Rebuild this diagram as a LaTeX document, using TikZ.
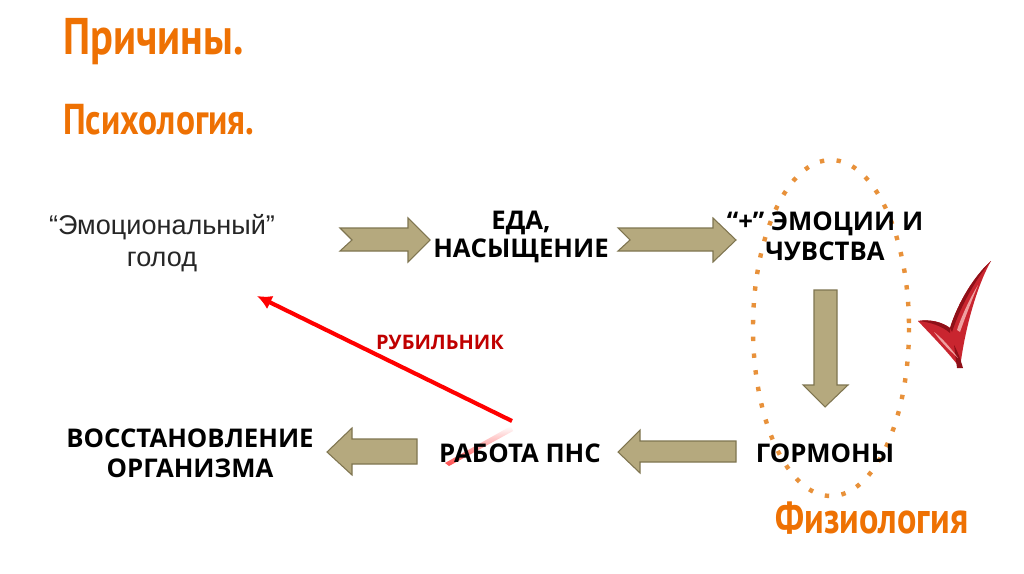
\documentclass[tikz,border=0pt]{standalone}
\usepackage{fontspec}
\usetikzlibrary{arrows.meta}
\setmainfont{Open Sans}
\newfontfamily\titlefont[FakeStretch=0.82]{PT Sans}
\newfontfamily\bodyfont{Liberation Sans}
\definecolor{orangeT}{HTML}{EE7103}
\definecolor{dotO}{HTML}{E8913A}
\definecolor{olive}{HTML}{B5A97E}
\definecolor{oliveD}{HTML}{7F7550}
\definecolor{darkred}{HTML}{C00000}
\definecolor{chk}{HTML}{C9252F}
\definecolor{chkD}{HTML}{8E1018}
\definecolor{chkL}{HTML}{EFA0A0}
\tikzset{x=0.75pt,y=-0.75pt,
 ttl/.style={font=\titlefont\bfseries\fontsize{#1}{#1}\selectfont,text=orangeT,inner sep=0,anchor=base west},
 lbl/.style={font=\bfseries\fontsize{19.3}{22.5}\selectfont,align=center,inner sep=0,text=black},
 barrow/.style={draw=oliveD,fill=olive,line width=0.8pt,line join=miter},
}
\begin{document}
\begin{tikzpicture}
\useasboundingbox (0,0) rectangle (1024,574);
\fill[white] (0,0) rectangle (1024,574);
\node[ttl=38.7] (t1) at (63,55) {Причины.};
\node[ttl=32.4] (t2) at (63,135) {Психология.};
\node[font=\bodyfont\fontsize{20.3}{24.5}\selectfont,align=center,inner sep=0,text=black!85] (a) at (162,243) {“Эмоциональный”\\голод};
% block arrows
\draw[barrow] (340,228) -- (408,228) -- (408,218) -- (430,240) -- (408,262) -- (408,251) -- (340,251) -- (352,240) -- cycle;
\draw[barrow] (618,228) -- (713,228) -- (713,218) -- (736,240) -- (713,262) -- (713,251) -- (618,251) -- (630,240) -- cycle;
\draw[barrow] (814,290) -- (837,290) -- (837,385) -- (848,385) -- (825,407) -- (803,385) -- (814,385) -- cycle;
\draw[barrow] (736,441) -- (640,441) -- (640,430) -- (618,452) -- (640,473) -- (640,462) -- (736,462) -- cycle;
\draw[barrow] (417,439) -- (352,439) -- (352,428) -- (327,452) -- (352,475) -- (352,464) -- (417,464) -- cycle;
% ellipse
\draw[dotO,line width=3.3pt,dash pattern=on 3.3pt off 9.3pt] (831,328) ellipse [x radius=78,y radius=168];
% red arrow
\coordinate (rs) at (512,421);
\coordinate (rt) at (257,296);
\draw[red,line width=3.1pt,-{Latex[length=11pt,width=11pt]}] (rs) -- (rt);
\path[left color=white,right color=red!70,shading angle=0] (445,463) -- (511,426) -- (513,431) -- (449,466) -- cycle;
\node[lbl] (b) at (521,237) {ЕДА,\\[-2pt]НАСЫЩЕНИЕ};
\node[lbl] (c) at (825,236) {“+” ЭМОЦИИ И\\ЧУВСТВА};
\node[lbl] (d) at (825,453) {ГОРМОНЫ};
\node[lbl] (e) at (520,453) {РАБОТА ПНС};
\node[lbl] (f) at (190,453) {ВОССТАНОВЛЕНИЕ\\ОРГАНИЗМА};
\node[font=\bfseries\fontsize{15}{16}\selectfont,text=darkred,inner sep=0] (r) at (440,342) {РУБИЛЬНИК};
\node[ttl=33,anchor=base] (ph) at (872,533) {Физиология};
% check mark
\fill[chk] (918,321) .. controls (930,319) and (942,322) .. (950,328) .. controls (958,302) and (975,275) .. (991,261) .. controls (980,280) and (966,320) .. (960,368) .. controls (948,352) and (932,336) .. (918,321) -- cycle;
% dark upper edges
\fill[chkD] (918,321) .. controls (930,319) and (942,322) .. (950,328) -- (950,333) .. controls (942,326) and (930,322) .. (918,321) -- cycle;
\fill[chkD] (950,328) .. controls (958,302) and (975,275) .. (991,261) .. controls (977,277) and (961,305) .. (952,332) -- cycle;
\fill[chkD] (954,345) .. controls (958,352) and (960,358) .. (963,368) -- (957,368) -- cycle;
% highlights
\fill[chkL] (957,330) .. controls (962,315) and (970,298) .. (978,285) .. controls (972,300) and (966,315) .. (960,332) -- cycle;
\fill[chkL] (934,332) .. controls (942,338) and (950,347) .. (958,358) .. controls (949,350) and (941,342) .. (934,332) -- cycle;
\end{tikzpicture}
\end{document}
